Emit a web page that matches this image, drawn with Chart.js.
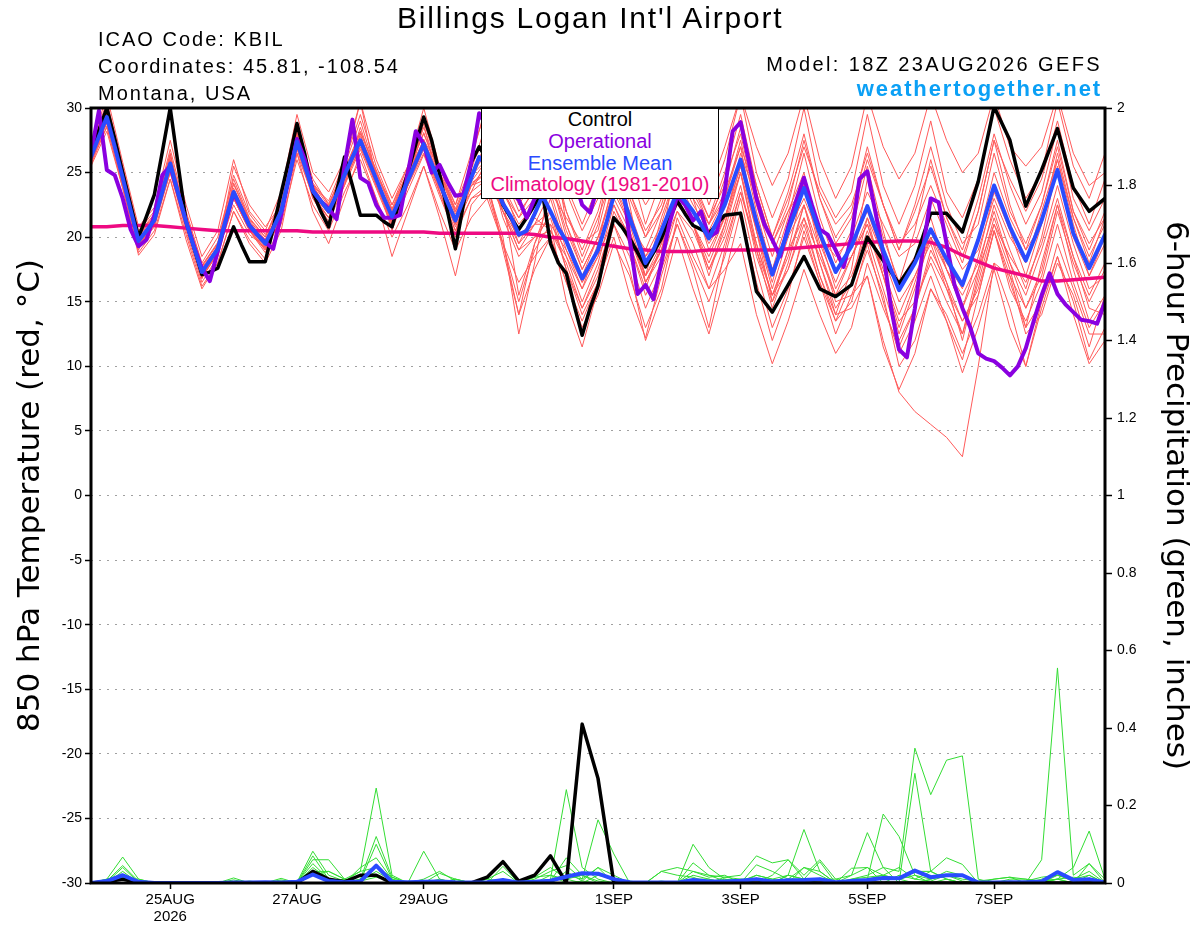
<!DOCTYPE html>
<html>
<head>
<meta charset="utf-8">
<title>Billings Logan Int'l Airport - GEFS 850 hPa temperature</title>
<script src="https://cdn.jsdelivr.net/npm/chart.js@4.4.1/dist/chart.umd.min.js"></script>
<style>
  html, body { margin: 0; padding: 0; background: #fff; }
  #wrap { position: relative; width: 1200px; height: 927px; overflow: hidden; font-family: "Liberation Sans", Arial, sans-serif; color: #000; }
  #chart { position: absolute; left: 0; top: 0; }
  .txt { position: absolute; white-space: nowrap; line-height: 1; }
  #title { left: 397px; top: 2.9px; font-size: 30px; letter-spacing: 1.8px; }
  .info { left: 98px; font-size: 20px; letter-spacing: 2px; }
  #model { right: 98px; top: 53.8px; font-size: 20px; letter-spacing: 2.4px; }
  #site { right: 98px; top: 78.1px; font-size: 22px; font-weight: bold; letter-spacing: 1.9px; color: #0ba0f5; }
  #legend { position: absolute; left: 481px; top: 108px; width: 238px; height: 91px; box-sizing: border-box;
            border: 1px solid #000; background: #fff; text-align: center; font-size: 20px; line-height: 21.8px; }
</style>
</head>
<body>
<div id="wrap">
  <canvas id="chart" width="1200" height="927"></canvas>
  <div class="txt" id="title">Billings Logan Int'l Airport</div>
  <div class="txt info" style="top:28.8px">ICAO Code: KBIL</div>
  <div class="txt info" style="top:55.8px">Coordinates: 45.81, -108.54</div>
  <div class="txt info" style="top:83.1px">Montana, USA</div>
  <div class="txt" id="model">Model: 18Z 23AUG2026 GEFS</div>
  <div class="txt" id="site">weathertogether.net</div>
  <div id="legend">
    <div style="color:#000">Control</div>
    <div style="color:#8a00e0">Operational</div>
    <div style="color:#2a4bff">Ensemble Mean</div>
    <div style="color:#ee0a82">Climatology (1981-2010)</div>
  </div>
</div>

<script>
// Time axis: hours after 18Z 23AUG2026
function range(a, b, s) { const out = []; for (let v = a; v <= b; v += s) out.push(v); return out; }
const hours3 = range(0, 384, 3);                               // operational run
const hoursMix = range(0, 240, 3).concat(range(246, 384, 6));   // control / ensemble mean
const hours6 = range(0, 384, 6);                               // members, climatology, precip

// x-axis tick labels (00Z of each day)
const tickHours = [30, 78, 126, 198, 246, 294, 342];
const tickLabels = ['25AUG', '27AUG', '29AUG', '1SEP', '3SEP', '5SEP', '7SEP'];
const tickYear = '2026';

// 850 hPa temperature (C) - control run
const controlTemp = [
  26.5,28.3,30.0,27.6,25.0,22.5,20.0,21.6,
  23.3,26.6,30.0,25.6,21.2,19.2,17.1,17.3,
  17.6,19.2,20.8,19.4,18.1,18.1,18.1,20.7,
  23.4,26.0,28.8,26.4,23.5,22.0,20.8,23.5,
  26.2,24.0,21.7,21.7,21.7,21.2,20.8,22.9,
  25.0,27.2,29.3,27.5,24.9,22.0,19.1,22.5,
  25.8,27.0,26.0,24.5,22.5,21.5,20.6,21.5,
  22.5,23.4,19.5,18.0,17.2,14.7,12.4,14.5,
  16.2,19.0,21.5,20.8,19.9,18.8,17.7,18.8,
  19.9,21.4,22.8,21.8,20.9,20.6,20.3,21.0,
  21.7,
  21.85,15.8,14.2,16.3,18.5,16.0,15.4,16.3,20.0,18.2,16.4,18.2,
  21.85,21.85,20.4,24.3,30.1,27.5,22.4,25.2,28.4,23.8,22.0,23.0
];

// operational run (3-hourly throughout)
const operationalTemp = [
  26.5,29.8,25.2,24.8,23.0,20.6,19.3,19.8,
  21.7,24.8,25.5,23.4,21.2,19.3,17.6,16.6,
  18.9,21.2,23.4,22.2,20.9,20.2,19.6,19.1,
  21.7,24.6,27.6,26.0,23.6,22.8,22.2,21.4,
  25.5,29.1,24.6,24.2,22.5,21.5,21.5,21.7,
  25.0,28.2,27.2,25.0,25.6,24.3,23.2,23.3,
  25.8,29.6,28.5,26.5,24.5,23.5,22.9,21.5,
  23.0,25.0,27.0,27.5,26.5,24.5,22.5,21.9,
  24.0,26.5,27.5,25.0,19.8,15.6,16.3,15.2,
  18.0,21.0,23.2,22.5,21.3,22.0,20.0,20.4,
  23.6,28.2,28.9,26.0,23.0,21.0,19.8,18.5,
  20.8,22.8,24.6,22.5,20.6,20.2,19.0,17.7,
  20.0,24.5,25.1,22.0,18.8,14.5,11.3,10.7,
  14.5,19.0,23.0,22.7,19.5,16.3,14.5,13.0,
  11.0,10.6,10.4,9.9,9.3,10.0,11.4,13.5,
  15.5,17.2,15.6,14.8,14.2,13.6,13.5,13.3,
  15.0
];

// ensemble mean
const meanTemp = [
  26.2,27.8,29.3,27.0,24.6,22.1,19.7,20.5,
  21.3,23.5,25.7,23.4,21.2,19.2,17.3,18.2,
  19.1,21.3,23.5,22.2,20.9,20.2,19.5,20.7,
  22.0,24.7,27.4,25.5,23.6,22.8,22.0,23.3,
  24.8,26.2,27.5,26.0,24.5,23.0,21.6,23.0,
  24.4,25.8,27.2,25.7,24.2,22.7,21.3,22.9,
  24.6,26.2,25.5,24.0,22.6,21.6,20.2,20.5,
  21.8,23.2,22.0,20.7,19.7,18.2,16.8,17.9,
  19.0,21.0,23.2,23.5,21.5,19.8,18.0,19.0,
  20.5,22.0,23.5,22.8,22.0,21.0,19.9,21.2,
  22.5,
  26.0,21.2,17.1,20.5,23.8,20.3,17.3,19.3,22.4,19.0,15.9,18.0,
  20.6,18.3,16.3,19.8,24.0,20.8,18.2,21.3,25.2,20.3,17.6,20.2
];

// 1981-2010 climatology
const climoTemp = [
  20.8,20.8,20.9,20.9,20.9,20.8,20.7,20.6,
  20.5,20.5,20.5,20.5,20.5,20.5,20.4,20.4,
  20.4,20.4,20.4,20.4,20.4,20.4,20.3,20.3,
  20.3,20.3,20.3,20.3,20.2,20.0,19.9,19.7,
  19.5,19.3,19.1,19.0,18.9,18.9,18.9,19.0,
  19.0,19.0,19.0,19.0,19.1,19.2,19.3,19.4,
  19.5,19.6,19.65,19.7,19.7,19.6,19.2,18.6,
  18.1,17.6,17.3,17.0,16.6,16.6,16.7,16.8,
  16.9
];

// ensemble members, 6-hourly (red)
const member01 = [
  26.8,30.5,25.5,20.5, 22.0,26.8,22.0,18.0, 20.0,24.5,21.5,20.0, 23.0,28.5,24.5,22.5,
  25.5,29.0,25.0,22.0, 25.0,28.5,25.0,22.5, 25.5,28.0,24.0,21.5, 24.0,27.0,22.0,19.0,
  22.0,26.5,23.5,20.0, 23.0,27.0,24.5,21.5, 25.0,29.5,24.0,20.0, 23.5,28.0,23.0,20.0,
  22.0,27.0,22.5,19.0, 22.0,25.5,21.5,19.0, 23.0,28.0,24.0,21.0, 23.5,28.5,23.0,20.5,
  23.0];
const member02 = [
  25.5,28.2,23.8,18.8, 20.5,24.5,20.2,16.2, 18.0,22.0,19.8,18.3, 21.0,26.0,22.5,20.5,
  23.5,26.0,23.0,20.0, 22.5,25.5,22.0,19.0, 21.5,23.0,19.5,16.5, 18.5,20.0,16.5,13.5,
  16.5,21.0,18.5,14.5, 17.5,21.0,18.0,15.0, 18.5,23.0,17.5,13.0, 16.0,20.0,16.5,13.5,
  15.0,19.5,15.0,11.0, 13.5,17.0,13.5,10.5, 15.5,20.5,16.0,13.5, 16.5,21.0,16.5,13.0,
  15.0];
const member03 = [
  26.0,29.8,24.0,19.0, 21.8,26.5,21.0,16.8, 19.5,24.8,21.8,20.2, 22.5,28.0,23.0,21.0,
  25.5,30.5,24.5,20.5, 24.0,28.8,23.5,20.0, 26.0,30.5,25.5,23.0, 25.0,28.5,21.0,18.0,
  21.0,27.5,22.5,16.5, 19.0,24.0,21.0,17.5, 20.5,25.0,19.0,14.5, 18.0,22.5,18.0,14.0,
  17.5,24.5,20.0,16.5, 20.5,26.0,21.5,18.5, 22.0,27.5,22.5,19.0, 21.0,26.5,21.5,18.0,
  21.5];
const member04 = [
  26.5,29.0,24.8,20.0, 21.0,25.2,20.8,17.0, 19.0,23.0,20.5,19.0, 22.0,27.0,23.5,22.3,
  24.5,27.5,24.0,21.0, 24.5,27.0,24.5,21.5, 23.5,26.0,21.5,18.5, 20.0,21.5,17.5,14.5,
  17.0,22.0,19.5,15.5, 18.0,22.0,20.5,17.5, 20.0,24.0,18.5,15.0, 17.5,21.0,17.0,14.0,
  14.5,17.0,12.0,8.0, 6.5,5.5,4.5,3.0, 10.0,18.0,17.0,14.5, 17.0,22.0,18.0,15.0,
  17.5];
const member05 = [
  25.8,29.5,25.0,20.2, 21.5,25.5,21.5,17.8, 19.5,23.2,21.0,19.8, 22.2,27.2,24.0,22.0,
  25.0,27.8,25.0,22.5, 25.0,27.5,25.5,22.0, 24.0,24.5,22.0,20.0, 21.5,20.5,18.5,16.0,
  19.5,24.5,22.0,18.5, 21.0,25.0,22.5,20.5, 23.0,27.5,22.0,17.5, 21.5,26.5,21.5,18.0,
  20.5,25.5,20.5,16.0, 18.0,21.5,17.5,14.5, 17.5,22.5,19.0,16.0, 20.0,25.5,20.0,17.0,
  19.5];
const member06 = [
  26.3,28.8,24.2,19.3, 20.8,25.0,20.5,16.5, 18.5,23.0,20.5,18.8, 21.5,27.0,23.0,21.5,
  24.0,28.0,24.0,21.0, 24.0,26.5,23.5,20.5, 23.0,24.0,20.0,12.5, 18.0,24.5,20.0,17.0,
  20.0,24.0,21.0,17.0, 21.5,25.0,23.0,21.0, 24.5,28.0,22.5,18.5, 22.0,25.0,20.0,16.0,
  18.5,21.0,17.0,12.5, 16.0,20.0,16.5,12.0, 17.0,21.5,18.0,15.5, 19.0,23.0,18.5,15.5,
  18.0];
const member07 = [
  26.0,29.6,25.0,20.0, 21.6,26.0,21.6,17.6, 19.3,23.8,21.2,19.6, 22.2,27.5,23.8,22.2,
  25.0,27.3,24.3,21.3, 24.3,27.3,24.0,21.0, 24.5,27.0,23.0,19.5, 22.0,25.0,21.0,17.5,
  20.0,22.5,19.5,16.0, 19.5,26.5,24.0,21.0, 23.0,27.0,20.5,15.0, 19.0,21.5,18.5,15.5,
  18.5,21.0,17.5,14.0, 17.0,19.5,16.0,12.5, 16.5,21.0,17.5,13.0, 18.0,22.5,18.5,14.5,
  14.0];
const member08 = [
  25.7,29.0,24.3,19.5, 21.0,26.0,21.3,17.5, 19.0,25.5,22.5,20.8, 22.5,28.2,24.0,22.8,
  25.8,29.5,25.5,22.5, 25.5,29.0,25.0,22.0, 25.0,27.0,24.0,20.5, 22.5,24.5,20.5,17.5,
  20.0,23.5,21.0,19.0, 22.0,26.0,23.0,19.0, 21.5,25.0,20.5,16.5, 21.0,24.0,19.5,16.5,
  19.5,22.0,18.5,15.0, 17.0,20.0,17.5,14.5, 18.5,23.5,20.5,17.0, 21.0,26.0,21.0,17.0,
  20.0];
const member09 = [
  26.6,30.2,24.5,19.2, 21.2,25.0,20.8,16.8, 18.8,22.5,20.2,19.2, 21.8,26.5,23.2,21.5,
  24.2,27.0,24.2,21.8, 24.8,27.5,24.8,21.8, 24.2,25.0,22.0,19.5, 21.0,21.0,19.0,16.5,
  18.5,21.5,20.0,17.0, 19.5,22.5,21.0,18.5, 21.5,25.5,21.5,17.5, 20.5,23.0,20.0,17.5,
  18.5,21.5,18.5,16.5, 18.5,20.5,18.0,16.0, 20.0,25.0,21.5,19.0, 22.5,27.0,22.0,19.0,
  22.0];
const member10 = [
  25.9,28.5,24.0,19.8, 21.2,25.5,21.0,17.0, 19.0,23.5,21.0,19.5, 22.0,27.5,24.0,22.0,
  24.5,28.5,24.8,21.5, 24.0,27.0,23.5,20.5, 24.0,25.5,22.0,19.0, 21.0,22.0,18.5,15.0,
  18.0,22.5,20.0,16.5, 19.0,22.0,19.5,16.0, 17.5,19.5,14.0,10.2, 13.5,17.5,14.0,11.0,
  13.0,18.0,14.5,11.5, 14.5,18.5,16.0,13.5, 15.5,20.5,16.5,13.0, 15.0,19.5,16.0,12.5,
  12.5];
const member11 = [
  26.4,29.3,24.8,19.9, 21.4,25.9,21.4,17.4, 19.2,23.6,21.0,19.4, 22.0,27.2,23.4,21.8,
  24.6,27.4,24.6,21.8, 24.6,27.6,24.4,21.6, 24.8,26.0,23.5,21.0, 22.5,23.5,21.5,19.5,
  20.5,25.5,23.5,20.5, 22.5,26.5,24.0,21.5, 24.0,28.5,24.0,20.0, 23.0,27.0,23.5,21.0,
  22.5,26.5,22.5,19.5, 21.0,24.0,21.0,18.0, 22.0,27.5,24.5,22.0, 24.5,29.0,24.0,21.0,
  24.5];
const member12 = [
  26.1,29.1,24.4,19.6, 21.1,25.6,21.1,17.1, 19.0,23.4,20.8,19.3, 21.8,27.0,23.3,21.8,
  24.6,27.2,24.2,21.2, 24.2,27.0,23.9,21.0, 24.0,25.0,22.0,19.0, 20.0,20.5,18.0,14.5,
  17.5,21.5,20.5,16.5, 18.5,24.5,22.0,19.5, 21.5,25.5,20.5,16.0, 20.0,22.5,19.0,15.5,
  17.0,20.5,17.0,13.5, 15.0,18.0,15.0,12.5, 17.5,21.0,18.5,16.5, 19.5,24.0,19.5,16.0,
  17.0];
const member13 = [
  26.9,31.0,25.8,20.8, 22.3,27.5,22.5,18.5, 20.5,26.0,22.0,20.5, 23.5,29.5,25.0,23.5,
  26.0,30.5,26.0,23.0, 25.5,30.0,25.5,22.5, 26.5,30.0,25.5,22.5, 24.5,30.5,24.0,21.0,
  24.0,30.5,25.5,21.0, 24.5,30.5,26.5,22.5, 26.0,31.0,25.0,21.5, 24.5,30.0,24.0,21.5,
  23.5,29.5,24.0,21.0, 24.0,29.0,23.5,21.5, 24.5,30.0,26.0,23.0, 25.0,30.5,25.5,23.0,
  26.5];
const member14 = [
  25.6,28.6,23.8,18.6, 20.2,24.5,19.8,16.0, 18.0,22.0,19.5,18.0, 20.5,26.5,22.0,19.5,
  23.0,26.5,23.0,18.5, 22.0,25.5,21.5,17.0, 22.5,24.0,19.5,15.0, 19.0,21.0,15.0,11.5,
  16.0,21.0,17.5,12.0, 15.5,20.0,16.0,12.5, 17.0,22.0,16.5,12.0, 15.5,20.5,16.5,12.5,
  15.5,19.0,15.5,10.0, 12.0,16.0,14.0,11.0, 14.0,18.0,14.5,10.0, 14.5,18.5,15.0,10.5,
  13.0];
const member15 = [
  26.2,29.9,25.2,20.3, 21.8,26.2,21.8,17.8, 19.6,24.2,21.4,20.0, 22.6,28.0,24.2,22.6,
  25.2,28.2,25.2,22.2, 25.2,28.0,25.0,22.2, 25.2,29.0,25.0,22.0, 23.5,28.5,23.5,20.5,
  23.0,29.0,25.0,22.5, 24.5,29.5,26.0,23.5, 27.0,31.0,27.0,24.0, 26.5,31.0,26.0,23.0,
  25.5,31.0,27.0,24.5, 26.5,31.0,27.5,25.0, 26.5,31.0,27.0,25.5, 27.0,31.0,26.5,24.0,
  25.0];
const member16 = [
  26.0,29.2,24.6,19.4, 21.0,25.3,20.9,16.9, 18.7,23.0,20.6,19.0, 21.6,26.8,23.2,21.2,
  24.0,26.8,23.8,20.8, 23.6,26.4,23.2,20.2, 23.0,23.5,19.5,14.0, 17.5,20.0,16.5,13.0,
  15.5,19.5,17.0,13.0, 16.0,21.5,18.5,16.0, 19.5,23.5,19.5,15.5, 18.5,22.5,18.0,14.5,
  16.5,20.0,16.0,12.0, 14.5,19.0,16.5,13.5, 16.0,20.5,17.0,12.5, 14.0,18.0,15.5,11.5,
  15.5];
const member17 = [
  26.3,29.4,24.7,19.8, 21.3,25.8,21.3,17.3, 19.1,23.5,20.9,19.5, 22.0,27.4,23.7,22.1,
  24.9,27.6,24.6,21.7, 24.5,27.3,24.3,21.4, 24.7,27.5,23.0,15.5, 19.5,23.0,19.0,16.0,
  18.5,24.0,21.5,18.5, 20.0,23.0,21.0,17.0, 21.0,26.5,23.0,19.5, 22.0,24.0,20.0,18.5,
  20.0,23.5,21.0,18.5, 19.5,23.0,20.0,17.5, 19.0,23.0,20.0,18.0, 22.0,26.0,21.5,18.5,
  21.0];
const member18 = [
  25.9,29.0,24.4,19.5, 21.0,25.4,21.0,17.0, 18.9,23.2,20.7,19.2, 21.8,27.0,23.4,21.8,
  24.5,27.2,24.3,21.5, 24.2,27.0,24.0,21.0, 24.3,26.0,22.5,20.0, 21.0,23.5,19.5,16.5,
  19.0,23.0,20.5,17.0, 19.0,23.5,21.0,18.0, 21.0,25.0,19.5,15.5, 19.0,24.0,19.0,15.0,
  15.5,17.0,11.5,8.2, 11.0,16.0,13.5,9.5, 13.0,17.5,13.0,10.0, 15.0,18.5,14.0,10.2,
  12.0];
const member19 = [
  26.5,29.9,25.1,20.2, 21.7,26.4,21.7,17.7, 19.5,24.1,21.3,19.8, 22.4,27.8,24.1,22.4,
  25.2,28.1,25.1,22.1, 24.9,28.1,24.8,22.0, 24.9,26.5,23.5,21.5, 23.0,25.5,22.0,18.5,
  21.5,25.0,23.0,20.0, 22.0,25.5,23.5,21.0, 23.5,27.0,23.5,19.5, 22.5,27.5,23.0,19.5,
  21.5,26.0,22.5,19.0, 22.5,27.0,22.5,19.5, 21.0,26.5,22.0,19.5, 22.5,27.5,22.0,19.5,
  21.5];
const member20 = [
  25.8,28.9,24.2,19.3, 20.9,25.3,20.8,16.9, 18.8,23.1,20.6,19.1, 21.7,27.1,23.3,21.5,
  24.3,27.0,24.0,21.2, 24.0,26.8,23.8,20.8, 23.5,24.5,19.0,14.0, 19.5,22.0,17.5,14.0,
  16.5,20.0,15.5,12.2, 17.0,21.0,17.5,13.0, 19.0,23.5,19.0,15.5, 17.5,21.5,17.0,13.5,
  16.5,21.5,17.0,13.0, 16.5,20.5,17.5,15.5, 18.0,22.0,18.0,14.5, 17.5,22.5,17.5,13.5,
  15.5];
const redMembers = [member01, member02, member03, member04, member05, member06, member07,
                    member08, member09, member10, member11, member12, member13, member14,
                    member15, member16, member17, member18, member19, member20];

// 6-hour precipitation (inches) - control and ensemble mean
const controlPrecip = [
  0,0.003,0.01,0,0,0,0,0,
  0,0,0,0,0,0,0.03,0.01,
  0.003,0.02,0.02,0,0,0,0,0,
  0,0.015,0.055,0.005,0.02,0.07,0,0.41,
  0.27,0,0,0,0,0,0,0,
  0,0,0,0,0,0,0,0,
  0,0,0,0,0,0,0,0,
  0,0,0,0,0,0,0,0,
  0];
const meanPrecip = [
  0,0.005,0.02,0.003,0,0,0,0,
  0,0.001,0.001,0.002,0.001,0.003,0.022,0.005,
  0.002,0.004,0.045,0.003,0.002,0.003,0.004,0.002,
  0.001,0.002,0.008,0.001,0.003,0.006,0.016,0.025,
  0.024,0.01,0.002,0.001,0.001,0.001,0.008,0.004,
  0.004,0.006,0.01,0.004,0.007,0.008,0.01,0.002,
  0.005,0.008,0.013,0.012,0.032,0.015,0.02,0.02,
  0.001,0.001,0.002,0.002,0.004,0.028,0.008,0.01,
  0.001];

// precipitation members (green)
const precip01 = [
  0,0.01,0.067,0.01,0,0,0,0,
  0,0,0,0,0,0.002,0.082,0.02,
  0.005,0.03,0.245,0.02,0,0,0.005,0,
  0,0,0.01,0,0,0.01,0.241,0.04,
  0.01,0,0,0,0,0,0.02,0.01,
  0,0,0.02,0.01,0,0.04,0.02,0,
  0.01,0.02,0.04,0.03,0.348,0.228,0.317,0.328,
  0.01,0,0.005,0,0.01,0.02,0.01,0.03,
  0];
const precip02 = [
  0,0.005,0.045,0.005,0,0,0,0,
  0,0,0,0,0.005,0,0.07,0.01,
  0,0.01,0.12,0.015,0,0.01,0.03,0.005,
  0,0,0,0,0,0,0.02,0.01,
  0.163,0.075,0,0,0,0,0,0,
  0.01,0,0,0,0.02,0.01,0,0,
  0.02,0.13,0.04,0,0.283,0.03,0.01,0,
  0,0,0,0,0.06,0.555,0.02,0.05,
  0.01];
const precip03 = [
  0,0.002,0.04,0.002,0,0,0,0,
  0,0,0,0,0,0,0.06,0.06,
  0.01,0.005,0.10,0.01,0,0.082,0.01,0,
  0,0,0.043,0,0,0.005,0.065,0.02,
  0.005,0,0,0,0,0,0.1,0.04,
  0.01,0.005,0.02,0.01,0.02,0.138,0.03,0,
  0,0.01,0.178,0.12,0.02,0,0.01,0,
  0,0,0,0,0.005,0.01,0.04,0.134,
  0.01];
const precip04 = [
  0,0,0.03,0,0,0,0,0,
  0,0.013,0,0,0.012,0,0.05,0.01,
  0,0.04,0.065,0.01,0,0,0.025,0.01,
  0,0,0,0,0.015,0.04,0.01,0.02,
  0,0,0,0,0,0,0.052,0.02,
  0.015,0.02,0.07,0.052,0.06,0.02,0.06,0.01,
  0.02,0.04,0.02,0.01,0.03,0.03,0.065,0.048,
  0,0,0.01,0.01,0,0.01,0,0.05,
  0];
const precip05 = [
  0,0.01,0.02,0,0,0,0,0,
  0,0,0,0,0,0,0.03,0.03,
  0.01,0.03,0.04,0.015,0,0,0,0.01,
  0,0.01,0.03,0,0.01,0.03,0.045,0.01,
  0.04,0,0,0,0.03,0.04,0.03,0.015,
  0.02,0,0.047,0.03,0.01,0.01,0.055,0,
  0.038,0.04,0,0.02,0.01,0.03,0.01,0,
  0,0.01,0.015,0,0,0.01,0,0.02,
  0];
const precip06 = [
  0,0,0.012,0.01,0,0,0,0,
  0,0.008,0,0,0,0,0.02,0.005,
  0.01,0.005,0.03,0.005,0,0,0,0.01,
  0,0.01,0.005,0,0.015,0.02,0,0.005,
  0,0,0.005,0,0.03,0.02,0.015,0,
  0.015,0.01,0,0.02,0.06,0.01,0.01,0.01,
  0,0.01,0.015,0.01,0,0.01,0.02,0.01,
  0.005,0.01,0.015,0.01,0.005,0.01,0.015,0.01,
  0.005];
const precip07 = [
  0,0.005,0.015,0,0,0,0,0,
  0,0,0.005,0,0.008,0,0.02,0.03,
  0.01,0.005,0.015,0.005,0,0,0.01,0,
  0,0,0.01,0,0,0.02,0.01,0,
  0.02,0.01,0,0,0.005,0,0.03,0.02,
  0.005,0.01,0.01,0.005,0.01,0.04,0.03,0,
  0.01,0.015,0.02,0.04,0.01,0.005,0.02,0.005,
  0,0,0,0.005,0.015,0.02,0.01,0.02,
  0];
const precip08 = [
  0,0,0.01,0.005,0,0,0,0,
  0,0,0,0,0,0,0.04,0.01,
  0,0.01,0.02,0,0,0,0,0,
  0,0,0.005,0,0,0,0.03,0.005,
  0.04,0.02,0,0,0,0,0.01,0.01,
  0,0,0.01,0,0.02,0.01,0.01,0,
  0,0.01,0.02,0.01,0.02,0.01,0.03,0.02,
  0,0,0,0,0,0.02,0.005,0.01,
  0];
const greenMembers = [precip01, precip02, precip03, precip04, precip05, precip06, precip07, precip08];

function pts(hours, vals) { return vals.map((v, i) => ({ x: hours[i], y: v })); }

const datasets = [
  { label: 'Ensemble Mean', data: pts(hoursMix, meanTemp), borderColor: '#2a4bff', borderWidth: 4, yAxisID: 'y', order: 0 },
  { label: 'Operational', data: pts(hours3, operationalTemp), borderColor: '#8a00e0', borderWidth: 4, yAxisID: 'y', order: 1 },
  { label: 'Control', data: pts(hoursMix, controlTemp), borderColor: '#000000', borderWidth: 3.5, yAxisID: 'y', order: 2 },
  { label: 'Climatology (1981-2010)', data: pts(hours6, climoTemp), borderColor: '#ee0a82', borderWidth: 3.5, yAxisID: 'y', order: 3 },
  { label: 'Mean precip', data: pts(hours6, meanPrecip), borderColor: '#2a4bff', borderWidth: 4, yAxisID: 'y2', order: 4 },
  { label: 'Control precip', data: pts(hours6, controlPrecip), borderColor: '#000000', borderWidth: 3.5, yAxisID: 'y2', order: 5 }
];
greenMembers.forEach((m, i) => datasets.push({
  label: 'Precip member ' + (i + 1), data: pts(hours6, m), borderColor: '#33dd33', borderWidth: 1, yAxisID: 'y2', order: 6
}));
redMembers.forEach((m, i) => datasets.push({
  label: 'Member ' + (i + 1), data: pts(hours6, m), borderColor: '#ff5a5a', borderWidth: 1, yAxisID: 'y', order: 7
}));

// thick black frame round the plot area
const framePlugin = {
  id: 'frame',
  afterDatasetsDraw(chart) {
    const { ctx, chartArea: a } = chart;
    ctx.save();
    ctx.strokeStyle = '#000';
    ctx.lineWidth = 3;
    ctx.strokeRect(a.left, a.top, a.right - a.left, a.bottom - a.top);
    ctx.restore();
  }
};

Chart.defaults.font.family = '"Liberation Sans", Arial, sans-serif';
Chart.defaults.color = '#000';

new Chart(document.getElementById('chart'), {
  type: 'line',
  data: { datasets: datasets },
  plugins: [framePlugin],
  options: {
    responsive: false,
    animation: false,
    events: [],
    layout: { padding: { top: 108, left: 0, right: 0, bottom: 0 } },
    elements: {
      point: { radius: 0 },
      line: { tension: 0, borderJoinStyle: 'round', borderCapStyle: 'round' }
    },
    plugins: { legend: { display: false }, tooltip: { enabled: false } },
    scales: {
      x: {
        type: 'linear', position: 'bottom', min: 0, max: 384,
        afterBuildTicks: s => { s.ticks = tickHours.map(v => ({ value: v })); },
        afterFit: s => { s.height = 44; },
        ticks: {
          autoSkip: false, maxRotation: 0, padding: 3, color: '#000',
          font: { size: 15, lineHeight: 1.1 },
          callback: v => {
            const i = tickHours.indexOf(v);
            if (i < 0) return '';
            return i === 0 ? [tickLabels[0], tickYear] : tickLabels[i];
          }
        },
        grid: { drawOnChartArea: false, drawTicks: true, tickLength: 6, tickColor: '#000', tickWidth: 1.5 },
        border: { display: false }
      },
      y: {
        position: 'left', min: -30, max: 30,
        afterFit: s => { s.width = 91; },
        ticks: { stepSize: 5, padding: 3, color: '#000', font: { size: 14 }, callback: v => String(v) },
        grid: { color: '#a0a0a0', lineWidth: 1, tickLength: 6, tickColor: '#000', tickWidth: 1.5 },
        border: { display: false, dash: [2, 6] },
        title: {
          display: true, text: '850 hPa Temperature (red, °C)', color: '#000',
          font: { family: '"DejaVu Sans", sans-serif', size: 31 }, padding: { top: 12, bottom: 0 }
        }
      },
      y2: {
        position: 'right', min: 0, max: 2,
        afterFit: s => { s.width = 95; },
        ticks: { stepSize: 0.2, padding: 5, color: '#000', font: { size: 14 }, callback: v => String(Math.round(v * 10) / 10) },
        grid: { drawOnChartArea: false, tickLength: 7, tickColor: '#000', tickWidth: 1.5 },
        border: { display: false },
        title: {
          display: true, text: '6-hour Precipitation (green, inches)', color: '#000',
          font: { family: '"DejaVu Sans", sans-serif', size: 31 }, padding: { top: 6, bottom: 0 }
        }
      }
    }
  }
});
</script>
</body>
</html>
